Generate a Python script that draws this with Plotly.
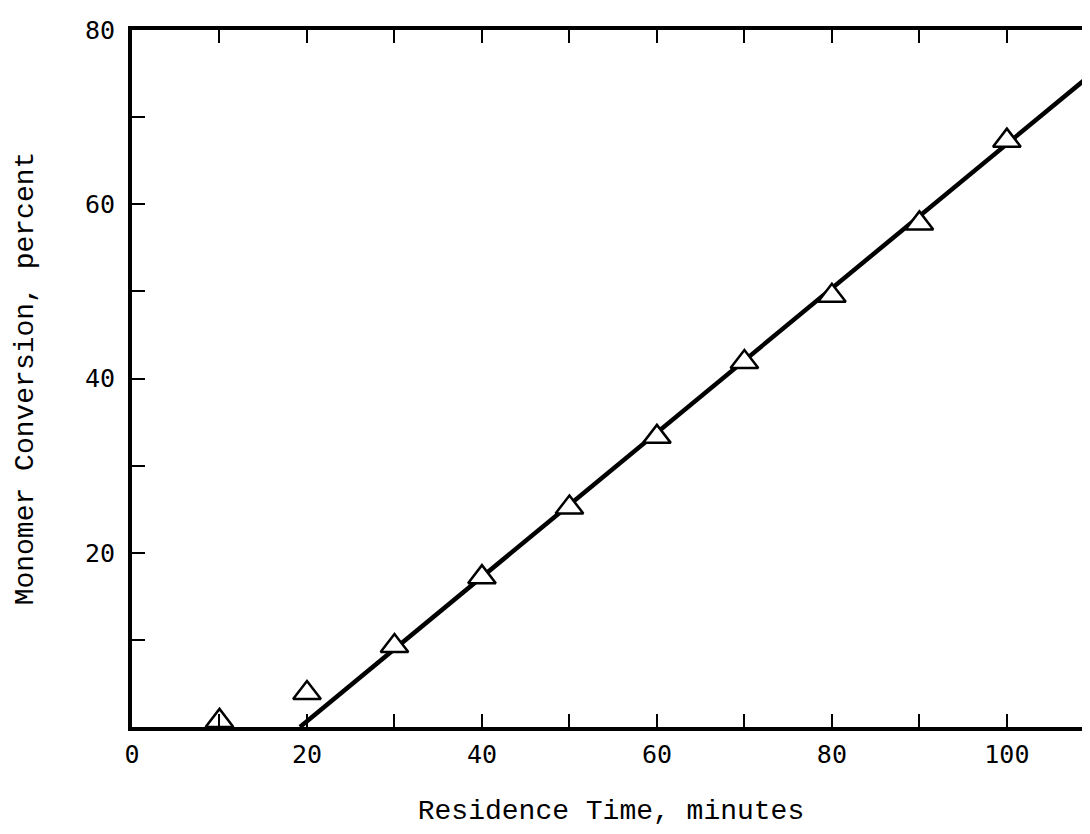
import plotly.graph_objects as go

residence_time = [10, 20, 30, 40, 50, 60, 70, 80, 90, 100]
conversion = [0.7, 3.9, 9.3, 17.2, 25.2, 33.3, 41.9, 49.5, 57.8, 67.3]

fit_x = [19.2, 110]
fit_y = [0, 75.2]

x_tickvals = list(range(0, 110, 10))
x_ticktext = ["0", "", "20", "", "40", "", "60", "", "80", "", "100"]
y_tickvals = list(range(0, 90, 10))
y_ticktext = ["", "", "20", "", "40", "", "60", "", "80"]

fig = go.Figure()
fig.add_trace(go.Scatter(x=fit_x, y=fit_y, mode="lines",
                         line=dict(color="black", width=4.5), showlegend=False))
fig.add_trace(go.Scatter(x=residence_time, y=conversion, mode="markers",
                         marker=dict(symbol="triangle-up", size=24, color="white",
                                     line=dict(color="black", width=2.5)),
                         showlegend=False, cliponaxis=False))
# right-side ticks (no line)
fig.add_trace(go.Scatter(x=[None], y=[None], yaxis="y2", showlegend=False))

tickfont = dict(family="DejaVu Sans Mono", size=25, color="black")
titlefont = dict(family="Liberation Mono", size=28, color="black")

fig.update_layout(
    width=1082, height=826,
    margin=dict(l=124, r=0, t=22, b=107),
    paper_bgcolor="white", plot_bgcolor="white",
    xaxis=dict(range=[0, 109.5], tickvals=x_tickvals, ticktext=x_ticktext,
               ticks="inside", ticklen=13, tickwidth=2, tickcolor="black",
               showline=True, linewidth=4, linecolor="black", mirror="ticks",
               showgrid=False, zeroline=False, tickfont=tickfont,
               ticklabelstandoff=2,
               title=dict(text="Residence Time, minutes", font=titlefont, standoff=32)),
    yaxis=dict(range=[0, 80], tickvals=y_tickvals, ticktext=y_ticktext,
               ticks="inside", ticklen=13, tickwidth=2, tickcolor="black",
               showline=True, linewidth=4, linecolor="black",
               showgrid=False, zeroline=False, tickfont=tickfont,
               ticklabelstandoff=8,
               title=dict(text="Monomer Conversion, percent", font=titlefont, standoff=44)),
    yaxis2=dict(range=[0, 80], overlaying="y", side="right", anchor="x",
                tickvals=list(range(10, 80, 10)), showticklabels=False,
                ticks="inside", ticklen=8, tickwidth=2, tickcolor="black",
                showline=False, showgrid=False, zeroline=False),
)

fig.write_html("out.html")
